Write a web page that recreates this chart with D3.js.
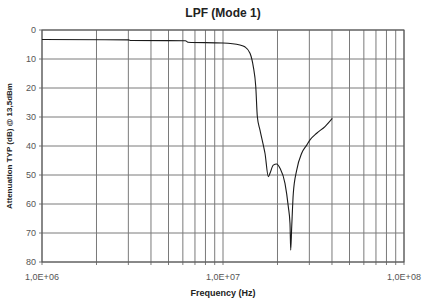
<!DOCTYPE html>
<html>
<head>
<meta charset="utf-8">
<script src="https://cdn.jsdelivr.net/npm/d3@7"></script>
<style>
  body { margin: 0; background: #fff; }
  svg text { font-family: "Liberation Sans", Arial, sans-serif; }
</style>
</head>
<body>
<svg id="chart"></svg>
<script>
var width = 424, height = 299;
var margin = {top: 30, right: 20, bottom: 37, left: 42};

// frequency (Hz) and attenuation (dB)
var freq = [1e6, 3.0e6, 3.1e6, 6.2e6, 6.4e6, 1.0e7, 1.24e7, 1.32e7, 1.41e7, 1.47e7,
    1.517e7, 1.548e7, 1.601e7, 1.67e7, 1.706e7, 1.78e7, 1.818e7, 1.896e7, 1.981e7,
    2.065e7, 2.2e7, 2.295e7, 2.345e7, 2.366e7, 2.397e7, 2.446e7, 2.554e7, 2.721e7,
    2.9e7, 3.025e7, 3.294e7, 3.66e7, 4.017e7];
var atten = [3.3, 3.4, 3.6, 3.7, 4.2, 4.5, 5.2, 5.8, 8, 12.6,
    19.5, 29.9, 34.5, 39.7, 42.5, 50.6, 49.4, 46.6, 46.2,
    47.7, 52.9, 60.9, 66.7, 75.9, 67.8, 56.3, 48.3, 42.5,
    39.7, 37.9, 35.6, 33.3, 30.5];
var yTicks = [0, 10, 20, 30, 40, 50, 60, 70, 80];
var xLabels = [1e6, 1e7, 1e8];
var data = freq.map(function(f, i) { return {f: f, v: atten[i]}; });

var svg = d3.select("#chart").attr("width", width).attr("height", height);

var x = d3.scaleLog().domain([1e6, 1e8]).range([margin.left, width - margin.right]);
var y = d3.scaleLinear().domain([0, 80]).range([margin.top, height - margin.bottom]);

// minor grid: 1..9 per decade
var gridX = [];
[1e6, 1e7].forEach(function(d) {
    for (var k = 1; k < 10; k++) gridX.push(d * k);
});
gridX.push(1e8);

svg.append("g").selectAll("line.vx")
    .data(gridX).enter().append("line")
    .attr("x1", function(d) { return x(d); })
    .attr("x2", function(d) { return x(d); })
    .attr("y1", y(0))
    .attr("y2", y(80) + 3)
    .attr("stroke", "#7a7a7a")
    .attr("stroke-width", 1);

svg.append("g").selectAll("line.hy")
    .data(yTicks).enter().append("line")
    .attr("x1", x(1e6) - 3)
    .attr("x2", x(1e8))
    .attr("y1", function(d) { return y(d); })
    .attr("y2", function(d) { return y(d); })
    .attr("stroke", "#7a7a7a")
    .attr("stroke-width", 1);

// frame
svg.append("rect")
    .attr("x", x(1e6)).attr("y", y(0))
    .attr("width", x(1e8) - x(1e6)).attr("height", y(80) - y(0))
    .attr("fill", "none").attr("stroke", "#555").attr("stroke-width", 1);

var line = d3.line()
    .x(function(d) { return x(d.f); })
    .y(function(d) { return y(d.v); })
    .curve(d3.curveMonotoneX);

svg.append("path")
    .datum(data)
    .attr("d", line)
    .attr("fill", "none")
    .attr("stroke", "#1a1a1a")
    .attr("stroke-width", 1.1);

// tick labels
svg.append("g").selectAll("text")
    .data(yTicks).enter().append("text")
    .attr("x", x(1e6) - 6)
    .attr("y", function(d) { return y(d) + 3; })
    .attr("text-anchor", "end")
    .attr("font-size", 9)
    .attr("fill", "#555")
    .text(function(d) { return d; });

svg.append("g").selectAll("text")
    .data(xLabels).enter().append("text")
    .attr("x", function(d) { return x(d); })
    .attr("y", y(80) + 18)
    .attr("text-anchor", "middle")
    .attr("font-size", 9)
    .attr("fill", "#555")
    .text(function(d) { return "1,0E+0" + Math.round(Math.log10(d)); });

svg.append("text")
    .attr("x", (x(1e6) + x(1e8)) / 2)
    .attr("y", 17)
    .attr("text-anchor", "middle")
    .attr("font-size", 12)
    .attr("font-weight", "bold")
    .attr("fill", "#222")
    .text("LPF (Mode 1)");

svg.append("text")
    .attr("x", (x(1e6) + x(1e8)) / 2)
    .attr("y", 296)
    .attr("text-anchor", "middle")
    .attr("font-size", 9)
    .attr("font-weight", "bold")
    .attr("fill", "#222")
    .text("Frequency (Hz)");

svg.append("text")
    .attr("transform", "translate(12," + ((y(0) + y(80)) / 2) + ") rotate(-90)")
    .attr("text-anchor", "middle")
    .attr("font-size", 8)
    .attr("font-weight", "bold")
    .attr("fill", "#222")
    .text("Attenuation TYP (dB) @ 13,5dBm");
</script>
</body>
</html>
